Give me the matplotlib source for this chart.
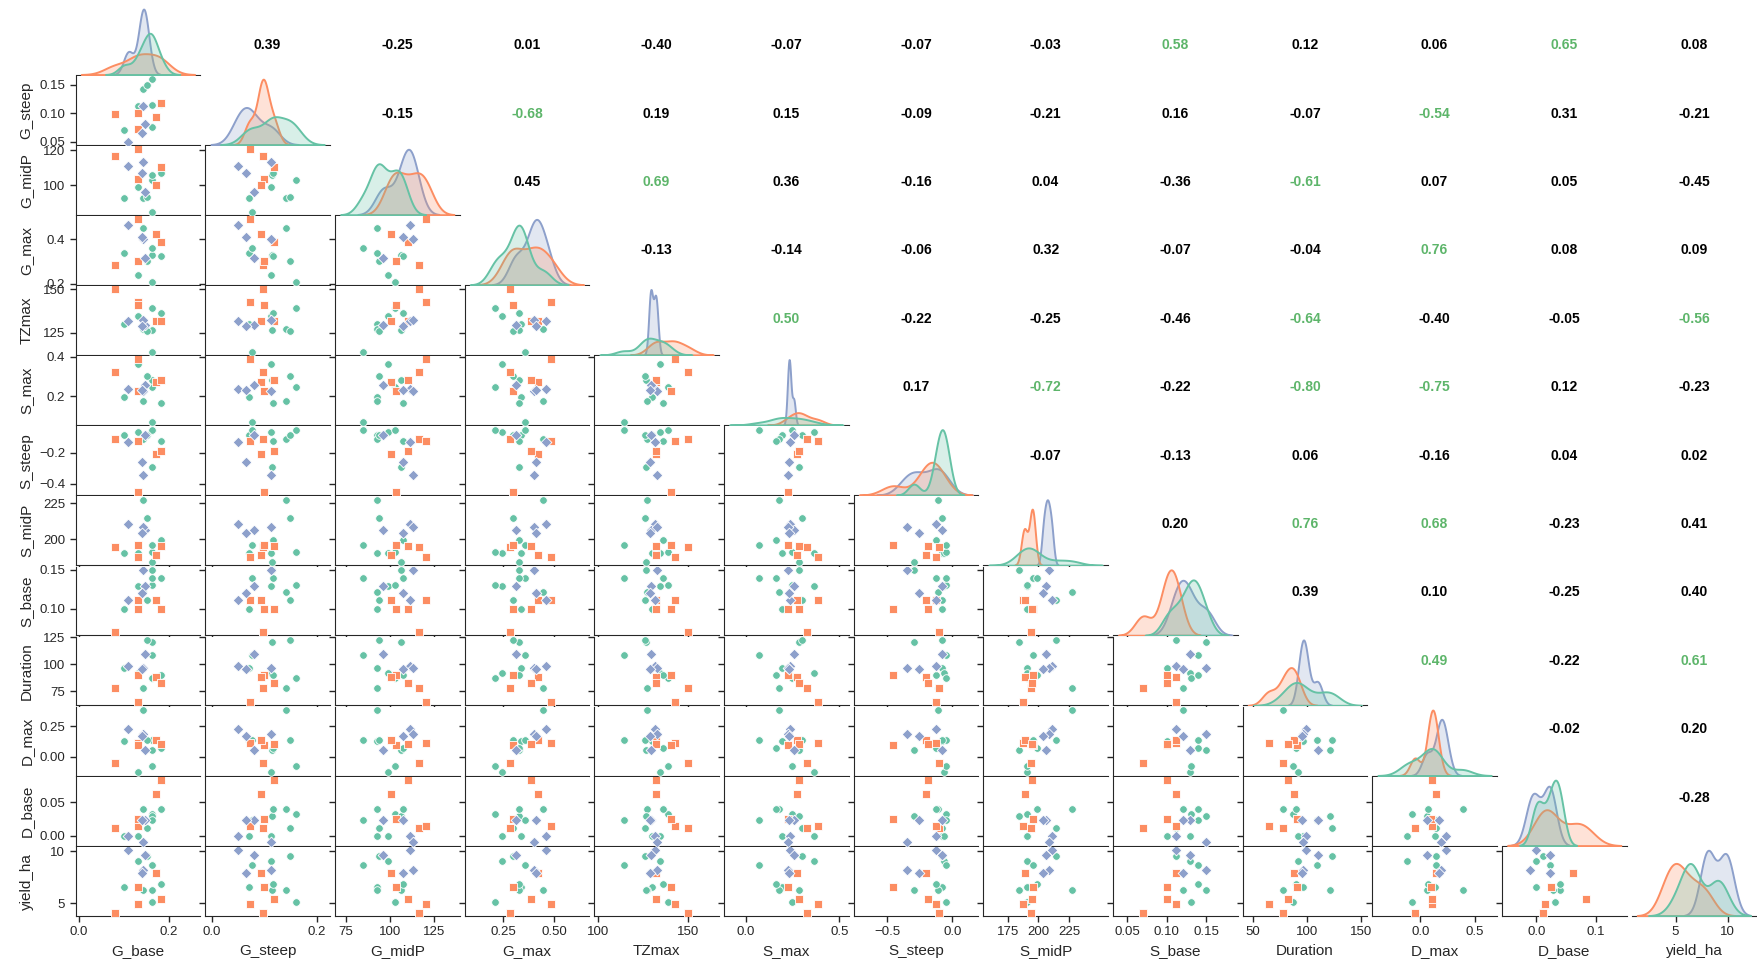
import numpy as np
import pandas as pd
import matplotlib
matplotlib.use("Agg")
import matplotlib.pyplot as plt
from matplotlib.ticker import FixedLocator
import seaborn as sns

# ---------------- data ----------------
# 8 points in group A (green), 5 in group B (orange), 4 in group C (purple)
group = ["A"] * 8 + ["B"] * 5 + ["C"] * 4

G_base = [0.101, 0.131, 0.142, 0.162, 0.162, 0.162, 0.182, 0.152,
          0.080, 0.131, 0.131, 0.171, 0.182,
          0.110, 0.147, 0.143, 0.141]
G_steep = [0.071, 0.113, 0.142, 0.160, 0.115, 0.076, 0.116, 0.150,
           0.098, 0.072, 0.100, 0.094, 0.118,
           0.050, 0.080, 0.113, 0.065]
G_midP = [92.6, 98.8, 92.6, 103.0, 106.0, 85.0, 107.2, 93.6,
          116.5, 120.6, 103.5, 100.4, 110.3,
          111.1, 96.3, 113.2, 107.2]
G_max = [0.336, 0.242, 0.448, 0.210, 0.330, 0.360, 0.326, 0.300,
         0.283, 0.488, 0.300, 0.424, 0.387,
         0.462, 0.315, 0.400, 0.410]
TZmax = [130.1, 134.6, 127.0, 139.1, 126.4, 114.1, 136.3, 126.0,
         150.0, 142.8, 140.8, 132.0, 132.0,
         131.6, 129.5, 132.6, 129.0]
S_max = [0.194, 0.363, 0.176, 0.245, 0.282, 0.069, 0.163, 0.301,
         0.325, 0.387, 0.226, 0.273, 0.282,
         0.236, 0.256, 0.226, 0.232]
S_steep = [-0.080, -0.064, -0.110, -0.050, -0.294, -0.047, -0.122, -0.080,
           -0.106, -0.125, -0.455, -0.205, -0.186,
           -0.127, -0.080, -0.346, -0.259]
S_midP = [190.7, 190.8, 227.5, 191.0, 184.3, 196.0, 199.3, 214.7,
          194.4, 187.7, 196.0, 189.5, 195.1,
          210.8, 206.6, 208.3, 204.2]
S_base = [0.100, 0.129, 0.121, 0.131, 0.150, 0.139, 0.139, 0.111,
          0.070, 0.111, 0.100, 0.111, 0.100,
          0.111, 0.129, 0.150, 0.120]
Duration = [96.2, 91.6, 78.0, 87.0, 121.0, 109.0, 90.0, 122.8,
            77.6, 64.7, 90.4, 88.1, 82.7,
            98.7, 109.9, 96.2, 95.5]
D_max = [0.132, -0.127, 0.385, -0.078, 0.056, 0.140, 0.070, 0.140,
         -0.050, 0.110, 0.100, 0.141, 0.103,
         0.230, 0.059, 0.190, 0.171]
D_base = [0.000, 0.000, 0.040, 0.032, 0.029, 0.023, 0.040, 0.011,
          0.011, 0.014, 0.025, 0.062, 0.083,
          0.000, 0.023, -0.010, 0.023]
yield_ha = [6.6, 9.1, 6.3, 5.1, 6.3, 8.7, 6.8, 9.5,
            4.1, 4.9, 6.6, 7.9, 5.4,
            10.1, 9.6, 8.2, 7.9]

variables = ["G_base", "G_steep", "G_midP", "G_max", "TZmax", "S_max", "S_steep",
             "S_midP", "S_base", "Duration", "D_max", "D_base", "yield_ha"]

# correlation labels shown in the upper triangle (row i, columns i+1 ..)
corr_values = [
    [0.39, -0.25, 0.01, -0.40, -0.07, -0.07, -0.03, 0.58, 0.12, 0.06, 0.65, 0.08],
    [-0.15, -0.68, 0.19, 0.15, -0.09, -0.21, 0.16, -0.07, -0.54, 0.31, -0.21],
    [0.45, 0.69, 0.36, -0.16, 0.04, -0.36, -0.61, 0.07, 0.05, -0.45],
    [-0.13, -0.14, -0.06, 0.32, -0.07, -0.04, 0.76, 0.08, 0.09],
    [0.50, -0.22, -0.25, -0.46, -0.64, -0.40, -0.05, -0.56],
    [0.17, -0.72, -0.22, -0.80, -0.75, 0.12, -0.23],
    [-0.07, -0.13, 0.06, -0.16, 0.04, 0.02],
    [0.20, 0.76, 0.68, -0.23, 0.41],
    [0.39, 0.10, -0.25, 0.40],
    [0.49, -0.22, 0.61],
    [-0.02, 0.20],
    [-0.28],
]

x_ticks = {"G_base": [0, 0.2], "G_steep": [0, 0.2], "G_midP": [75, 100, 125],
           "G_max": [0.25, 0.5], "TZmax": [100, 150], "S_max": [0, 0.5],
           "S_steep": [-0.5, 0], "S_midP": [175, 200, 225],
           "S_base": [0.05, 0.1, 0.15], "Duration": [50, 100, 150],
           "D_max": [0, 0.5], "D_base": [0, 0.1], "yield_ha": [5, 10]}
y_ticks = {"G_steep": [0.05, 0.1, 0.15], "G_midP": [100, 120], "G_max": [0.2, 0.4],
           "TZmax": [125, 150], "S_max": [0.2, 0.4], "S_steep": [-0.4, -0.2],
           "S_midP": [200, 225], "S_base": [0.1, 0.15], "Duration": [75, 100, 125],
           "D_max": [0, 0.25], "D_base": [0, 0.05], "yield_ha": [5, 10]}

# ---------------- styling ----------------
sns.set_style("ticks")
plt.rcParams["font.family"] = ["Liberation Sans", "DejaVu Sans"]

order = ["A", "B", "C"]
palette = {"A": "#66c2a5", "B": "#fc8d62", "C": "#8da0cb"}
markers = {"A": "o", "B": "s", "C": "D"}
msize = {"A": 30, "B": 26, "C": 30}
green_txt = "#5db56a"

df = pd.DataFrame({"group": group, "G_base": G_base, "G_steep": G_steep,
                   "G_midP": G_midP, "G_max": G_max, "TZmax": TZmax,
                   "S_max": S_max, "S_steep": S_steep, "S_midP": S_midP,
                   "S_base": S_base, "Duration": Duration, "D_max": D_max,
                   "D_base": D_base, "yield_ha": yield_ha})

n = len(variables)
fig, axes = plt.subplots(n, n, figsize=(17.58, 9.69), dpi=100,
                         sharex="col", sharey="row")
fig.subplots_adjust(left=0.043, right=0.999, top=0.994, bottom=0.055,
                    wspace=0.04, hspace=0.02)

for i, yv in enumerate(variables):
    for j, xv in enumerate(variables):
        ax = axes[i, j]
        ax.tick_params(labelsize=9.5, length=4, width=1.0, direction="out")
        if i > j:
            for g in order:
                sub = df[df["group"] == g]
                ax.scatter(sub[xv], sub[yv], marker=markers[g], s=msize[g],
                           color=palette[g], edgecolor="white", linewidth=0.6,
                           zorder=3)
            sns.despine(ax=ax)
        elif i == j:
            tax = ax.twinx()
            sns.kdeplot(data=df, x=xv, hue="group", hue_order=order,
                        palette=palette, fill=True, common_norm=False,
                        bw_adjust=0.85, legend=False, ax=tax, linewidth=1.4,
                        warn_singular=False)
            tax.set_axis_off()
            for s in ["left", "top", "right"]:
                ax.spines[s].set_visible(False)
            ax.tick_params(axis="y", left=False, labelleft=False)
        else:
            ax.set_axis_off()
            r = corr_values[i][j - i - 1]
            col = green_txt if abs(r) >= 0.47 else "black"
            yfrac = 0.5 - (5.0 - 1.7 * i) / 69.0
            ax.text(0.5, yfrac, f"{r:.2f}", ha="center", va="center",
                    transform=ax.transAxes, fontsize=10, fontweight="bold",
                    color=col)


def include_ticks(lim, ticks, tol=0.08):
    lo, hi = lim
    span = hi - lo
    for t in ticks:
        if lo - tol * span <= t < lo:
            lo = t - 0.01 * span
        if hi < t <= hi + tol * span:
            hi = t + 0.01 * span
    return lo, hi


for j, v in enumerate(variables):
    bax = axes[-1, j]
    bax.xaxis.set_major_locator(FixedLocator(x_ticks[v]))
    bax.set_xlim(*include_ticks(bax.get_xlim(), x_ticks[v], tol=0.15))
    bax.set_xlabel(v, fontsize=11)
for i, v in enumerate(variables):
    if i == 0:
        continue
    lax = axes[i, 0]
    lax.yaxis.set_major_locator(FixedLocator(y_ticks[v]))
    lax.set_ylim(*include_ticks(lax.get_ylim(), y_ticks[v], tol=0.02))
    lax.set_ylabel(v, fontsize=11)

fig.align_ylabels(axes[1:, 0])
fig.savefig("out.png", dpi=100)
